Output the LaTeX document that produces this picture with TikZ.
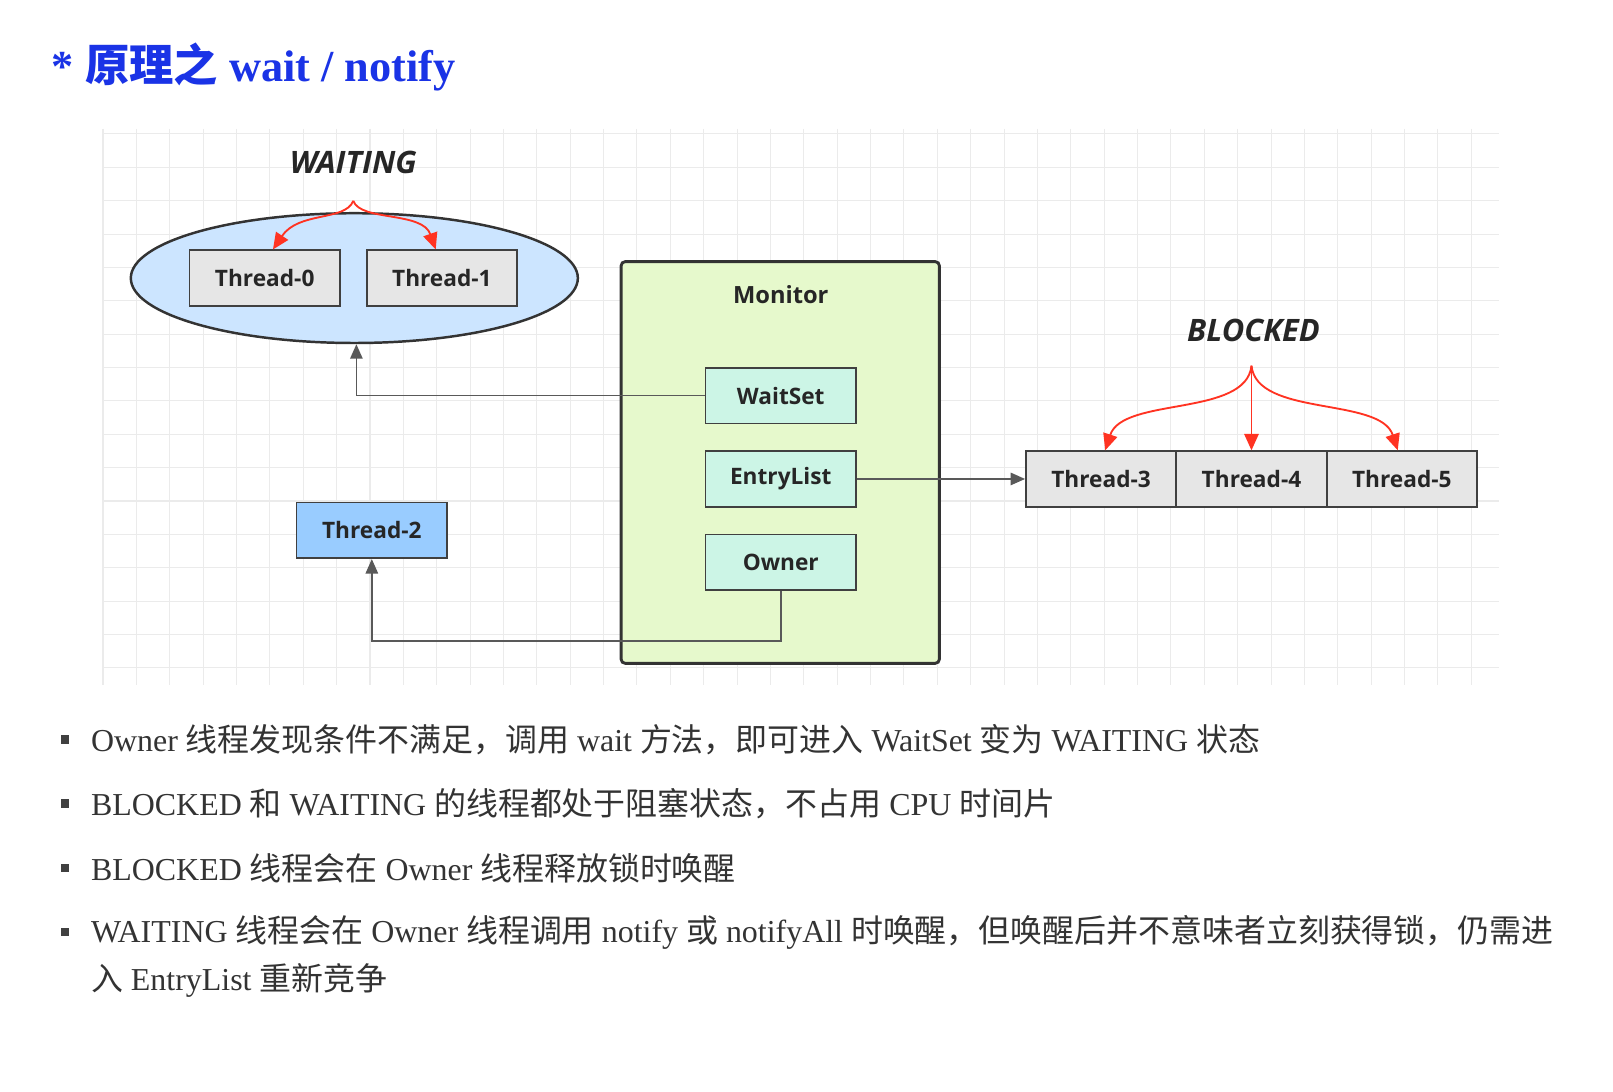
\documentclass[tikz,border=0pt]{standalone}
\usepackage{fontspec}
\setmainfont{Liberation Serif}
\newfontfamily\cjk{Noto Sans CJK SC}
\newfontfamily\osans{Open Sans}
\usetikzlibrary{arrows.meta,shapes.geometric}
\definecolor{gridc}{HTML}{EBEBEB}
\definecolor{boxg}{HTML}{E6E6E6}
\definecolor{ellb}{HTML}{CCE5FF}
\definecolor{monc}{HTML}{E6F9CC}
\definecolor{setc}{HTML}{CCF5E6}
\definecolor{t2c}{HTML}{99CCFF}
\definecolor{txt}{HTML}{333333}
\definecolor{ttl}{HTML}{1A33E6}
\definecolor{redc}{HTML}{FF3322}
\begin{document}
\begin{tikzpicture}[x=0.5pt,y=-0.5pt,
  box/.style={draw=black!75,line width=0.8pt,minimum width=73pt,minimum height=27pt,inner sep=0pt,font=\osans\bfseries\fontsize{11}{13}\selectfont,text=black!85},
  thr/.style={box,fill=boxg},
  inset/.style={box,fill=setc},
  conn/.style={draw=black!65,line width=0.8pt,-{Triangle[length=7pt,width=6pt]}},
  red/.style={draw=redc,line width=0.9pt,-{Triangle[length=8pt,width=7pt]},redc},
  state/.style={font=\osans\bfseries\itshape\fontsize{15}{17}\selectfont,text=black!85},
  bul/.style={anchor=west,font=\fontsize{15.5}{18}\selectfont,text=txt,inner sep=0pt}]
\useasboundingbox (0,0) rectangle (1566,1060);
\fill[white] (0,0) rectangle (1566,1060);
\foreach \i in {0,...,41} \draw[gridc,line width=0.5pt] (100+32.4*\i,125) -- (100+32.4*\i,665);
\foreach \j in {0,...,16} \draw[gridc,line width=0.5pt] (100,130+32.4*\j) -- (1455,130+32.4*\j);
\node[anchor=west,inner sep=0pt,text=ttl] (title) at (50,65) {\fontsize{21.5}{26}\selectfont\bfseries *\ {\cjk 原理之} wait / notify};
% waiting
\node[draw=black!80,line width=1.2pt,fill=ellb,ellipse,minimum width=217pt,minimum height=63pt,inner sep=0pt] (ell) at (344,270) {};
\node[thr] (t0) at (257,270) {Thread-0};
\node[thr] (t1) at (429,270) {Thread-1};
\node[state] (wl) at (343,158) {WAITING};
\coordinate (wsplit) at (343,195);
\draw[red] (wsplit) .. controls (335,215) and (290,205) .. (t0.north -| 265,0);
\draw[red] (wsplit) .. controls (350,215) and (410,205) .. (t1.north -| 423,0);
% monitor
\node[draw=black!80,line width=1.4pt,fill=monc,rounded corners=2pt,minimum width=154.5pt,minimum height=195pt,inner sep=0pt] (mon) at (757.5,449) {};
\node[font=\osans\bfseries\fontsize{11.5}{13}\selectfont,text=black!85] (monl) at (758,286) {Monitor};
\node[inset] (ws) at (758,384) {WaitSet};
\node[inset] (el) at (758,465) {EntryList};
\node[inset] (ow) at (758,546) {Owner};
\node[box,fill=t2c] (t2) at (361,515) {Thread-2};
% blocked
\node[thr] (t3) at (1069,465) {Thread-3};
\node[thr] (t4) at (1215,465) {Thread-4};
\node[thr] (t5) at (1361,465) {Thread-5};
\node[state] (bl) at (1217,321) {BLOCKED};
\coordinate (bsplit) at (1215,355);
\draw[red] (bsplit) .. controls (1210,405) and (1090,385) .. (t3.north -| 1073,0);
\draw[red] (bsplit) -- (t4.north);
\draw[red] (bsplit) .. controls (1220,405) and (1340,385) .. (t5.north -| 1357,0);
% connectors
\draw[conn] (ws.west) -| (ell.south -| 346,0);
\draw[conn] (ow.south) |- (600,622) -| (t2.south);
\draw[conn] (el.east) -- (t3.west);
% bullets
\foreach \y in {718,780,843,905} \fill[black!75] (59,\y-4) rectangle (67,\y+4);
\node[bul] (b1) at (88,718) {Owner {\cjk 线程发现条件不满足，调用} wait {\cjk 方法，即可进入} WaitSet {\cjk 变为} WAITING {\cjk 状态}};
\node[bul] (b2) at (88,780) {BLOCKED {\cjk 和} WAITING {\cjk 的线程都处于阻塞状态，不占用} CPU {\cjk 时间片}};
\node[bul] (b3) at (88,843) {BLOCKED {\cjk 线程会在} Owner {\cjk 线程释放锁时唤醒}};
\node[bul] (b4) at (88,905) {WAITING {\cjk 线程会在} Owner {\cjk 线程调用} notify {\cjk 或} notifyAll {\cjk 时唤醒，但唤醒后并不意味者立刻获得锁，仍需进}};
\node[bul] (b5) at (88,952) {{\cjk 入} EntryList {\cjk 重新竞争}};
\end{tikzpicture}
\end{document}
